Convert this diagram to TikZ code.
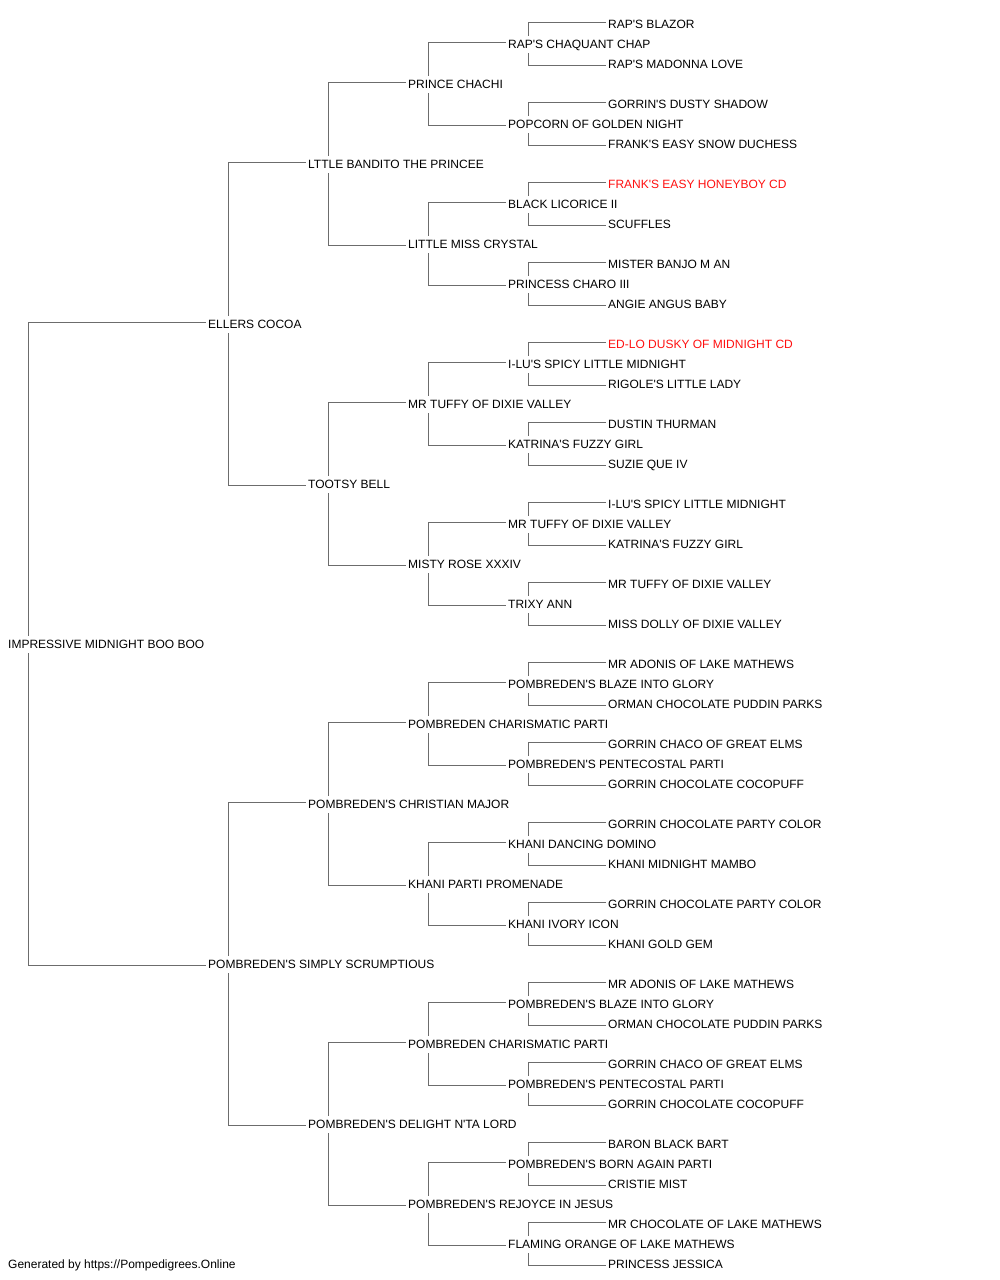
\documentclass[tikz,border=0pt]{standalone}
\usepackage{fontspec}
\setmainfont{Liberation Sans}[Ligatures=TeXOff]
\usetikzlibrary{backgrounds}
\definecolor{linegray}{RGB}{108,108,108}
\definecolor{rednm}{RGB}{255,16,16}
\begin{document}
\begin{tikzpicture}[x=1pt,y=-1pt,
  pname/.style={anchor=west, fill=white, inner xsep=1pt, inner ysep=0pt,
    text height=8.6pt, text depth=0pt, minimum height=17pt,
    font=\fontsize{12pt}{14pt}\selectfont},
  redn/.style={pname, text=rednm},
  conn/.style={draw=linegray, line width=1.5pt}]
\useasboundingbox (0,0) rectangle (1000,1280);
% generation 0
\node[pname] (a-0-1) at (7,644) {IMPRESSIVE MIDNIGHT BOO BOO};
% generation 1
\node[pname] (a-1-1) at (207,324) {ELLERS COCOA};
\node[pname] (a-1-2) at (207,964) {POMBREDEN'S SIMPLY SCRUMPTIOUS};
% generation 2
\node[pname] (a-2-1) at (307,164) {LTTLE BANDITO THE PRINCEE};
\node[pname] (a-2-2) at (307,484) {TOOTSY BELL};
\node[pname] (a-2-3) at (307,804) {POMBREDEN'S CHRISTIAN MAJOR};
\node[pname] (a-2-4) at (307,1124) {POMBREDEN'S DELIGHT N'TA LORD};
% generation 3
\node[pname] (a-3-1) at (407,84) {PRINCE CHACHI};
\node[pname] (a-3-2) at (407,244) {LITTLE MISS CRYSTAL};
\node[pname] (a-3-3) at (407,404) {MR TUFFY OF DIXIE VALLEY};
\node[pname] (a-3-4) at (407,564) {MISTY ROSE XXXIV};
\node[pname] (a-3-5) at (407,724) {POMBREDEN CHARISMATIC PARTI};
\node[pname] (a-3-6) at (407,884) {KHANI PARTI PROMENADE};
\node[pname] (a-3-7) at (407,1044) {POMBREDEN CHARISMATIC PARTI};
\node[pname] (a-3-8) at (407,1204) {POMBREDEN'S REJOYCE IN JESUS};
% generation 4
\node[pname] (a-4-1) at (507,44) {RAP'S CHAQUANT CHAP};
\node[pname] (a-4-2) at (507,124) {POPCORN OF GOLDEN NIGHT};
\node[pname] (a-4-3) at (507,204) {BLACK LICORICE II};
\node[pname] (a-4-4) at (507,284) {PRINCESS CHARO III};
\node[pname] (a-4-5) at (507,364) {I-LU'S SPICY LITTLE MIDNIGHT};
\node[pname] (a-4-6) at (507,444) {KATRINA'S FUZZY GIRL};
\node[pname] (a-4-7) at (507,524) {MR TUFFY OF DIXIE VALLEY};
\node[pname] (a-4-8) at (507,604) {TRIXY ANN};
\node[pname] (a-4-9) at (507,684) {POMBREDEN'S BLAZE INTO GLORY};
\node[pname] (a-4-10) at (507,764) {POMBREDEN'S PENTECOSTAL PARTI};
\node[pname] (a-4-11) at (507,844) {KHANI DANCING DOMINO};
\node[pname] (a-4-12) at (507,924) {KHANI IVORY ICON};
\node[pname] (a-4-13) at (507,1004) {POMBREDEN'S BLAZE INTO GLORY};
\node[pname] (a-4-14) at (507,1084) {POMBREDEN'S PENTECOSTAL PARTI};
\node[pname] (a-4-15) at (507,1164) {POMBREDEN'S BORN AGAIN PARTI};
\node[pname] (a-4-16) at (507,1244) {FLAMING ORANGE OF LAKE MATHEWS};
% generation 5
\node[pname] (a-5-1) at (607,24) {RAP'S BLAZOR};
\node[pname] (a-5-2) at (607,64) {RAP'S MADONNA LOVE};
\node[pname] (a-5-3) at (607,104) {GORRIN'S DUSTY SHADOW};
\node[pname] (a-5-4) at (607,144) {FRANK'S EASY SNOW DUCHESS};
\node[redn]  (a-5-5) at (607,184) {FRANK'S EASY HONEYBOY CD};
\node[pname] (a-5-6) at (607,224) {SCUFFLES};
\node[pname] (a-5-7) at (607,264) {MISTER BANJO M AN};
\node[pname] (a-5-8) at (607,304) {ANGIE ANGUS BABY};
\node[redn]  (a-5-9) at (607,344) {ED-LO DUSKY OF MIDNIGHT CD};
\node[pname] (a-5-10) at (607,384) {RIGOLE'S LITTLE LADY};
\node[pname] (a-5-11) at (607,424) {DUSTIN THURMAN};
\node[pname] (a-5-12) at (607,464) {SUZIE QUE IV};
\node[pname] (a-5-13) at (607,504) {I-LU'S SPICY LITTLE MIDNIGHT};
\node[pname] (a-5-14) at (607,544) {KATRINA'S FUZZY GIRL};
\node[pname] (a-5-15) at (607,584) {MR TUFFY OF DIXIE VALLEY};
\node[pname] (a-5-16) at (607,624) {MISS DOLLY OF DIXIE VALLEY};
\node[pname] (a-5-17) at (607,664) {MR ADONIS OF LAKE MATHEWS};
\node[pname] (a-5-18) at (607,704) {ORMAN CHOCOLATE PUDDIN PARKS};
\node[pname] (a-5-19) at (607,744) {GORRIN CHACO OF GREAT ELMS};
\node[pname] (a-5-20) at (607,784) {GORRIN CHOCOLATE COCOPUFF};
\node[pname] (a-5-21) at (607,824) {GORRIN CHOCOLATE PARTY COLOR};
\node[pname] (a-5-22) at (607,864) {KHANI MIDNIGHT MAMBO};
\node[pname] (a-5-23) at (607,904) {GORRIN CHOCOLATE PARTY COLOR};
\node[pname] (a-5-24) at (607,944) {KHANI GOLD GEM};
\node[pname] (a-5-25) at (607,984) {MR ADONIS OF LAKE MATHEWS};
\node[pname] (a-5-26) at (607,1024) {ORMAN CHOCOLATE PUDDIN PARKS};
\node[pname] (a-5-27) at (607,1064) {GORRIN CHACO OF GREAT ELMS};
\node[pname] (a-5-28) at (607,1104) {GORRIN CHOCOLATE COCOPUFF};
\node[pname] (a-5-29) at (607,1144) {BARON BLACK BART};
\node[pname] (a-5-30) at (607,1184) {CRISTIE MIST};
\node[pname] (a-5-31) at (607,1224) {MR CHOCOLATE OF LAKE MATHEWS};
\node[pname] (a-5-32) at (607,1264) {PRINCESS JESSICA};
% footer
\node[pname] (footer) at (7,1264) {Generated by https://Pompedigrees.Online};
% connectors
\begin{scope}[on background layer]
\foreach \k in {0,...,4}{
  \pgfmathtruncatemacro\kk{\k+1}
  \pgfmathtruncatemacro\nn{2^\k}
  \foreach \i in {1,...,\nn}{
    \pgfmathtruncatemacro\ca{2*\i-1}
    \pgfmathtruncatemacro\cb{2*\i}
    \draw[conn] ([xshift=-1pt,yshift=1.5pt]a-\kk-\ca.west) -| ([xshift=21.5pt]a-\k-\i.west)
      |- ([xshift=-1pt,yshift=-1.5pt]a-\kk-\cb.west);
  }
}
\end{scope}
\end{tikzpicture}
\end{document}
